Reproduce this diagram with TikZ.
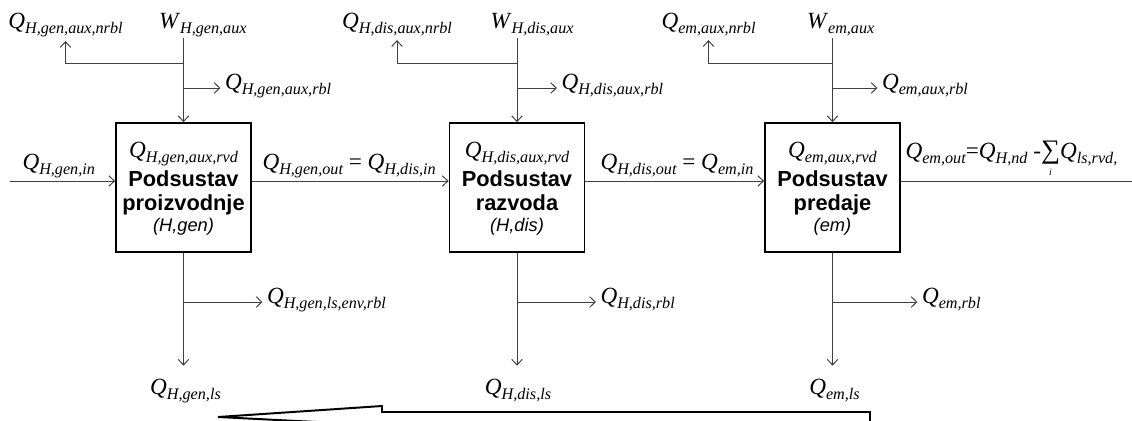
\documentclass[tikz,border=0pt]{standalone}
\usepackage{fontspec}
\setmainfont{Liberation Serif}
\setsansfont{Liberation Sans}
\usetikzlibrary{arrows.meta}
\newcommand\qsub[2]{\textit{#1}\raisebox{-0.22em}{\fontsize{11.5}{12}\selectfont\itshape #2}}
\newcommand\sumi{\ooalign{{\fontsize{19}{19}\selectfont ∑}\cr\hidewidth\raisebox{-0.75em}{\fontsize{7}{7}\selectfont\itshape i}\hidewidth\cr}}
\tikzset{flow/.style={draw=black!75, line width=0.7pt, -{Straight Barb[length=4pt,width=7.5pt]}},
  link/.style={draw=black!75, line width=0.7pt},
  subbox/.style={draw, line width=1.2pt, minimum width=3.375cm, minimum height=3.225cm},
  lab/.style={font=\fontsize{16.5}{18}\selectfont, inner sep=3pt},
  boxname/.style={font=\fontsize{15.5}{17}\selectfont\sffamily\bfseries, inner sep=0pt},
  boxcode/.style={font=\fontsize{13}{14}\selectfont\sffamily\itshape, inner sep=0pt}}

\begin{document}
\begin{tikzpicture}[x=0.025cm, y=-0.025cm]
  \useasboundingbox (0,0) rectangle (1132,421);
  \clip (0,0) rectangle (1132,421);
  \begin{scope}[shift={(183.5,0)}]
   \node[subbox] (gen) at (0,187.5) {};
   \node[lab, anchor=base] at (0,157) {\qsub{Q}{H,gen,aux,rvd}};
   \node[boxname, anchor=base] at (0,186) {Podsustav};
   \node[boxname, anchor=base] at (0,210) {proizvodnje};
   \node[boxcode, anchor=base] at (0,231) {(H,gen)};
   \node[lab, anchor=base west] (genw) at (-29,28) {\qsub{W}{H,gen,aux}};
   \node[lab, anchor=base] (gennr) at (-118,28) {\qsub{Q}{H,gen,aux,nrbl}};
   \node[lab, anchor=base west] (genrb) at (37,89) {\qsub{Q}{H,gen,aux,rbl}};
   \node[lab, anchor=base west] (genenv) at (79,303) {\qsub{Q}{H,gen,ls,env,rbl}};
   \node[lab, anchor=base] (genls) at (2,394) {\qsub{Q}{H,gen,ls}};
   \coordinate (gentop) at (0,38);
   \coordinate (genj1) at (0,63);
   \coordinate (genj2) at (0,88);
   \coordinate (genj3) at (0,302);
   \draw[flow] (gentop) -- (gen);
   \draw[flow] (genj1) -| (gennr);
   \draw[flow] (genj2) -- (genj2 -| genrb.west);
   \draw[flow] (genj3) -- (genj3 -| genenv.west);
   \draw[flow, shorten >=6pt] (gen) -- (gen.south |- genls.north);
  \end{scope}
  \begin{scope}[shift={(517,0)}]
   \node[subbox] (dis) at (0,187.5) {};
   \node[lab, anchor=base] at (0,157) {\qsub{Q}{H,dis,aux,rvd}};
   \node[boxname, anchor=base] at (0,186) {Podsustav};
   \node[boxname, anchor=base] at (0,210) {razvoda};
   \node[boxcode, anchor=base] at (0,231) {(H,dis)};
   \node[lab, anchor=base west] (disw) at (-31,28) {\qsub{W}{H,dis,aux}};
   \node[lab, anchor=base] (disnr) at (-120,28) {\qsub{Q}{H,dis,aux,nrbl}};
   \node[lab, anchor=base west] (disrb) at (40,89) {\qsub{Q}{H,dis,aux,rbl}};
   \node[lab, anchor=base west] (disenv) at (79,303) {\qsub{Q}{H,dis,rbl}};
   \node[lab, anchor=base] (disls) at (1,394) {\qsub{Q}{H,dis,ls}};
   \coordinate (distop) at (0,38);
   \coordinate (disj1) at (0,63);
   \coordinate (disj2) at (0,88);
   \coordinate (disj3) at (0,302);
   \draw[flow] (distop) -- (dis);
   \draw[flow] (disj1) -| (disnr);
   \draw[flow] (disj2) -- (disj2 -| disrb.west);
   \draw[flow] (disj3) -- (disj3 -| disenv.west);
   \draw[flow, shorten >=6pt] (dis) -- (dis.south |- disls.north);
  \end{scope}
  \begin{scope}[shift={(832.5,0)}]
   \node[subbox] (em) at (0,187.5) {};
   \node[lab, anchor=base] at (0,157) {\qsub{Q}{em,aux,rvd}};
   \node[boxname, anchor=base] at (0,186) {Podsustav};
   \node[boxname, anchor=base] at (0,210) {predaje};
   \node[boxcode, anchor=base] at (0,231) {(em)};
   \node[lab, anchor=base west] (emw) at (-30,28) {\qsub{W}{em,aux}};
   \node[lab, anchor=base] (emnr) at (-124,28) {\qsub{Q}{em,aux,nrbl}};
   \node[lab, anchor=base west] (emrb) at (45,89) {\qsub{Q}{em,aux,rbl}};
   \node[lab, anchor=base west] (emenv) at (85,303) {\qsub{Q}{em,rbl}};
   \node[lab, anchor=base] (emls) at (2,394) {\qsub{Q}{em,ls}};
   \coordinate (emtop) at (0,38);
   \coordinate (emj1) at (0,63);
   \coordinate (emj2) at (0,88);
   \coordinate (emj3) at (0,302);
   \draw[flow] (emtop) -- (em);
   \draw[flow] (emj1) -| (emnr);
   \draw[flow] (emj2) -- (emj2 -| emrb.west);
   \draw[flow] (emj3) -- (emj3 -| emenv.west);
   \draw[flow, shorten >=6pt] (em) -- (em.south |- emls.north);
  \end{scope}
  \coordinate (in) at (10,181);
  \coordinate (out) at (1132,181);
  \node[lab, anchor=base west] (qin) at (18,169) {\qsub{Q}{H,gen,in}};
  \node[lab, anchor=base west] (qgen) at (258,169) {\qsub{Q}{H,gen,out} = \qsub{Q}{H,dis,in}};
  \node[lab, anchor=base west] (qdis) at (596,169) {\qsub{Q}{H,dis,out} = \qsub{Q}{em,in}};
  \node[lab, anchor=base west] (qem) at (901,158) {\qsub{Q}{em,out}=\qsub{Q}{H,nd} -\sumi\qsub{Q}{ls,rvd,}};
  \draw[flow] (in) -- (in -| gen.west);
  \draw[flow] (gen.east |- in) -- (dis.west |- in);
  \draw[flow] (dis.east |- in) -- (em.west |- in);
  \draw[link] (em.east |- in) -- (out);
  \draw[line width=1.4pt, line join=miter] (870,445) -- (870,412) -- (382,412) -- (382,406)
    -- (218,417) -- (382,425.3) -- (382,445);
 \end{tikzpicture}
\end{document}
